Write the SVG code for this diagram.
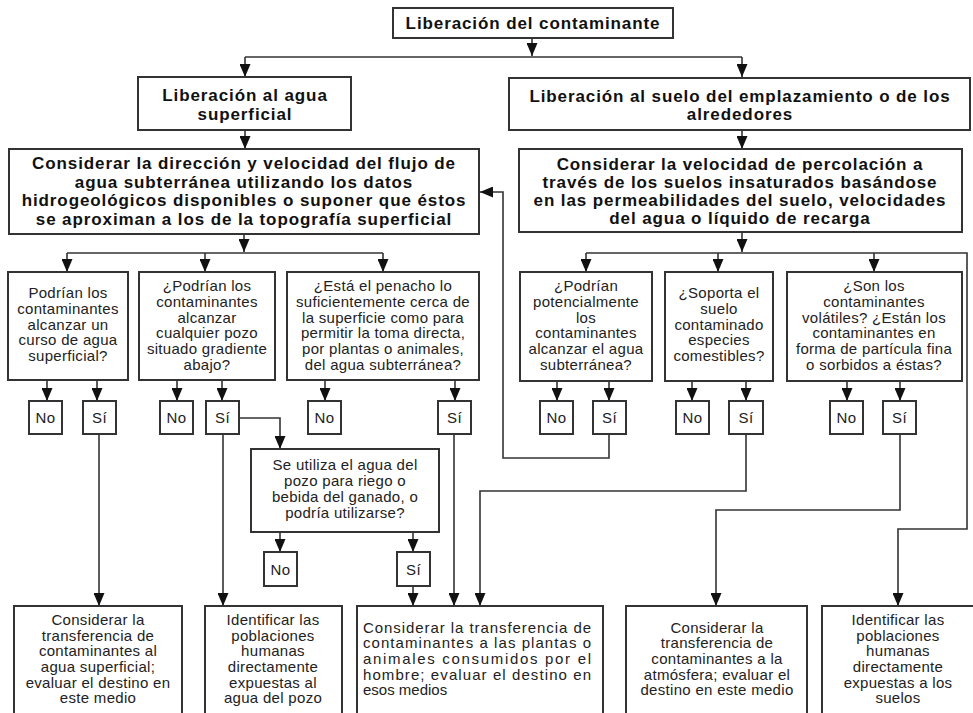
<svg xmlns="http://www.w3.org/2000/svg" width="973" height="713" viewBox="0 0 973 713">
<style>
.box{fill:#fff;stroke:#333;stroke-width:2}
.ln{fill:none;stroke:#333;stroke-width:1.6}
.ar{fill:none;stroke:#333;stroke-width:1.6;marker-end:url(#ah)}
.b{font-family:"Liberation Sans",Arial,sans-serif;font-weight:bold;font-size:17px;letter-spacing:0.9px;text-anchor:middle;fill:#111}
.r{font-family:"Liberation Sans",Arial,sans-serif;font-size:15px;letter-spacing:0.3px;text-anchor:middle;fill:#222}
.l{font-family:"Liberation Sans",Arial,sans-serif;font-size:15px;fill:#222}
</style>
<defs>
<marker id="ah" viewBox="0 0 13 11" refX="13" refY="5.5" markerWidth="13" markerHeight="11" markerUnits="userSpaceOnUse" orient="auto">
<path d="M0,0 L13,5.5 L0,11 z" fill="#111"/>
</marker>
</defs>
<rect width="973" height="713" fill="#fff"/>

<g id="connectors">
<path class="ar" d="M532,38 V56"/>
<path class="ln" d="M245,57 H742"/>
<path class="ar" d="M245,57 V77"/>
<path class="ar" d="M742,57 V77"/>
<path class="ar" d="M245,130 V149"/>
<path class="ar" d="M742,130 V149"/>
<path class="ar" d="M244,234 V252"/>
<path class="ln" d="M67,253 H383"/>
<path class="ar" d="M67,253 V272"/>
<path class="ar" d="M205,253 V272"/>
<path class="ar" d="M383,253 V272"/>
<path class="ar" d="M742,232 V252"/>
<path class="ar" d="M586,253 H967 V529 H898 V606"/>
<path class="ar" d="M586,253 V272"/>
<path class="ar" d="M718,253 V272"/>
<path class="ar" d="M874,253 V272"/>
<path class="ar" d="M47,380 V401"/>
<path class="ar" d="M97,380 V401"/>
<path class="ar" d="M177,380 V401"/>
<path class="ar" d="M222,380 V401"/>
<path class="ar" d="M325,380 V401"/>
<path class="ar" d="M455,380 V401"/>
<path class="ar" d="M557,381 V401"/>
<path class="ar" d="M609,381 V401"/>
<path class="ar" d="M692,381 V401"/>
<path class="ar" d="M746,381 V401"/>
<path class="ar" d="M847,381 V401"/>
<path class="ar" d="M900,381 V401"/>
<path class="ar" d="M99,434 V606"/>
<path class="ar" d="M223,434 V606"/>
<path class="ar" d="M239,418 H280 V449"/>
<path class="ar" d="M280,532 V552"/>
<path class="ar" d="M413,532 V552"/>
<path class="ar" d="M413,586 V606"/>
<path class="ar" d="M454,434 V606"/>
<path class="ar" d="M746,434 V491 H480 V606"/>
<path class="ar" d="M609,434 V458 H503 V192 H480"/>
<path class="ar" d="M900,434 V510 H716 V606"/>
</g>

<g id="n-top">
<rect class="box" x="393" y="8" width="280" height="30"/>
<text class="b" x="533" y="29">Liberación del contaminante</text>
</g>
<g id="n-agua">
<rect class="box" x="138" y="77" width="213" height="53"/>
<text class="b" x="245" y="101">Liberación al agua</text>
<text class="b" x="245" y="120">superficial</text>
</g>
<g id="n-suelo">
<rect class="box" x="509" y="78" width="461" height="52"/>
<text class="b" x="740" y="102">Liberación al suelo del emplazamiento o de los</text>
<text class="b" x="740" y="120">alrededores</text>
</g>
<g id="n-flujo">
<rect class="box" x="9" y="149" width="470" height="85"/>
<text class="b" x="244" y="169">Considerar la dirección y velocidad del flujo de</text>
<text class="b" x="244" y="188">agua subterránea utilizando los datos</text>
<text class="b" x="244" y="206">hidrogeológicos disponibles o suponer que éstos</text>
<text class="b" x="244" y="225">se aproximan a los de la topografía superficial</text>
</g>
<g id="n-percol">
<rect class="box" x="519" y="149" width="443" height="83"/>
<text class="b" x="740" y="170">Considerar la velocidad de percolación a</text>
<text class="b" x="740" y="188">través de los suelos insaturados basándose</text>
<text class="b" x="740" y="206">en las permeabilidades del suelo, velocidades</text>
<text class="b" x="740" y="224">del agua o líquido de recarga</text>
</g>

<g id="q1">
<rect class="box" x="8" y="272" width="120" height="108"/>
<text class="r" x="68" y="298">Podrían los</text>
<text class="r" x="68" y="314">contaminantes</text>
<text class="r" x="68" y="330">alcanzar un</text>
<text class="r" x="68" y="345">curso de agua</text>
<text class="r" x="68" y="361">superficial?</text>
</g>
<g id="q2">
<rect class="box" x="139" y="272" width="136" height="108"/>
<text class="r" x="207" y="291">¿Podrían los</text>
<text class="r" x="207" y="307">contaminantes</text>
<text class="r" x="207" y="323">alcanzar</text>
<text class="r" x="207" y="338">cualquier pozo</text>
<text class="r" x="207" y="354">situado gradiente</text>
<text class="r" x="207" y="370">abajo?</text>
</g>
<g id="q3">
<rect class="box" x="287" y="272" width="192" height="108"/>
<text class="r" x="383" y="291">¿Está el penacho lo</text>
<text class="r" x="383" y="307">suficientemente cerca de</text>
<text class="r" x="383" y="323">la superficie como para</text>
<text class="r" x="383" y="338">permitir la toma directa,</text>
<text class="r" x="383" y="354">por plantas o animales,</text>
<text class="r" x="383" y="370">del agua subterránea?</text>
</g>
<g id="qr1">
<rect class="box" x="520" y="272" width="132" height="109"/>
<text class="r" x="586" y="291">¿Podrían</text>
<text class="r" x="586" y="307">potencialmente</text>
<text class="r" x="586" y="323">los</text>
<text class="r" x="586" y="338">contaminantes</text>
<text class="r" x="586" y="354">alcanzar el agua</text>
<text class="r" x="586" y="370">subterránea?</text>
</g>
<g id="qr2">
<rect class="box" x="665" y="272" width="108" height="109"/>
<text class="r" x="719" y="298">¿Soporta el</text>
<text class="r" x="719" y="314">suelo</text>
<text class="r" x="719" y="330">contaminado</text>
<text class="r" x="719" y="345">especies</text>
<text class="r" x="719" y="361">comestibles?</text>
</g>
<g id="qr3">
<rect class="box" x="787" y="272" width="175" height="109"/>
<text class="r" x="874" y="291">¿Son los</text>
<text class="r" x="874" y="307">contaminantes</text>
<text class="r" x="874" y="323">volátiles? ¿Están los</text>
<text class="r" x="874" y="338">contaminantes en</text>
<text class="r" x="874" y="354">forma de partícula fina</text>
<text class="r" x="874" y="370">o sorbidos a éstas?</text>
</g>

<g id="no1"><rect class="box" x="29" y="401" width="33" height="33"/><text class="r" x="45.5" y="423">No</text></g>
<g id="si1"><rect class="box" x="83" y="401" width="33" height="33"/><text class="r" x="99.5" y="423">Sí</text></g>
<g id="no2"><rect class="box" x="160" y="401" width="33" height="33"/><text class="r" x="176.5" y="423">No</text></g>
<g id="si2"><rect class="box" x="206" y="401" width="33" height="33"/><text class="r" x="222.5" y="423">Sí</text></g>
<g id="no3"><rect class="box" x="308" y="401" width="33" height="33"/><text class="r" x="324.5" y="423">No</text></g>
<g id="si3"><rect class="box" x="438" y="401" width="33" height="33"/><text class="r" x="454.5" y="423">Sí</text></g>
<g id="nor1"><rect class="box" x="540" y="401" width="33" height="33"/><text class="r" x="556.5" y="423">No</text></g>
<g id="sir1"><rect class="box" x="593" y="401" width="33" height="33"/><text class="r" x="609.5" y="423">Sí</text></g>
<g id="nor2"><rect class="box" x="676" y="401" width="33" height="33"/><text class="r" x="692.5" y="423">No</text></g>
<g id="sir2"><rect class="box" x="729" y="401" width="34" height="33"/><text class="r" x="746" y="423">Sí</text></g>
<g id="nor3"><rect class="box" x="830" y="401" width="33" height="33"/><text class="r" x="846.5" y="423">No</text></g>
<g id="sir3"><rect class="box" x="883" y="401" width="33" height="33"/><text class="r" x="899.5" y="423">Sí</text></g>

<g id="q4">
<rect class="box" x="251" y="449" width="188" height="83"/>
<text class="r" x="345" y="470">Se utiliza el agua del</text>
<text class="r" x="345" y="486">pozo para riego o</text>
<text class="r" x="345" y="502">bebida del ganado, o</text>
<text class="r" x="345" y="518">podría utilizarse?</text>
</g>
<g id="no4"><rect class="box" x="264" y="552" width="33" height="34"/><text class="r" x="280.5" y="575">No</text></g>
<g id="si4"><rect class="box" x="397" y="552" width="33" height="34"/><text class="r" x="413.5" y="575">Sí</text></g>

<g id="b1">
<rect class="box" x="14" y="606" width="168" height="120"/>
<text class="r" x="98" y="625">Considerar la</text>
<text class="r" x="98" y="641">transferencia de</text>
<text class="r" x="98" y="656">contaminantes al</text>
<text class="r" x="98" y="672">agua superficial;</text>
<text class="r" x="98" y="688">evaluar el destino en</text>
<text class="r" x="98" y="703">este medio</text>
</g>
<g id="b2">
<rect class="box" x="205" y="606" width="137" height="120"/>
<text class="r" x="273" y="625">Identificar las</text>
<text class="r" x="273" y="641">poblaciones</text>
<text class="r" x="273" y="656">humanas</text>
<text class="r" x="273" y="672">directamente</text>
<text class="r" x="273" y="688">expuestas al</text>
<text class="r" x="273" y="703">agua del pozo</text>
</g>
<g id="b3">
<rect class="box" x="357" y="606" width="246" height="120"/>
<text class="l" x="363" y="633" textLength="228" lengthAdjust="spacing">Considerar la transferencia de</text>
<text class="l" x="363" y="648" textLength="228" lengthAdjust="spacing">contaminantes a las plantas o</text>
<text class="l" x="363" y="664" textLength="228" lengthAdjust="spacing">animales consumidos por el</text>
<text class="l" x="363" y="680" textLength="228" lengthAdjust="spacing">hombre; evaluar el destino en</text>
<text class="l" x="363" y="695">esos medios</text>
</g>
<g id="b4">
<rect class="box" x="626" y="606" width="181" height="120"/>
<text class="r" x="717" y="633">Considerar la</text>
<text class="r" x="717" y="648">transferencia de</text>
<text class="r" x="717" y="664">contaminantes a la</text>
<text class="r" x="717" y="680">atmósfera; evaluar el</text>
<text class="r" x="717" y="695">destino en este medio</text>
</g>
<g id="b5">
<rect class="box" x="822" y="606" width="160" height="120"/>
<text class="r" x="898" y="625">Identificar las</text>
<text class="r" x="898" y="641">poblaciones</text>
<text class="r" x="898" y="656">humanas</text>
<text class="r" x="898" y="672">directamente</text>
<text class="r" x="898" y="688">expuestas a los</text>
<text class="r" x="898" y="703">suelos</text>
</g>
</svg>
